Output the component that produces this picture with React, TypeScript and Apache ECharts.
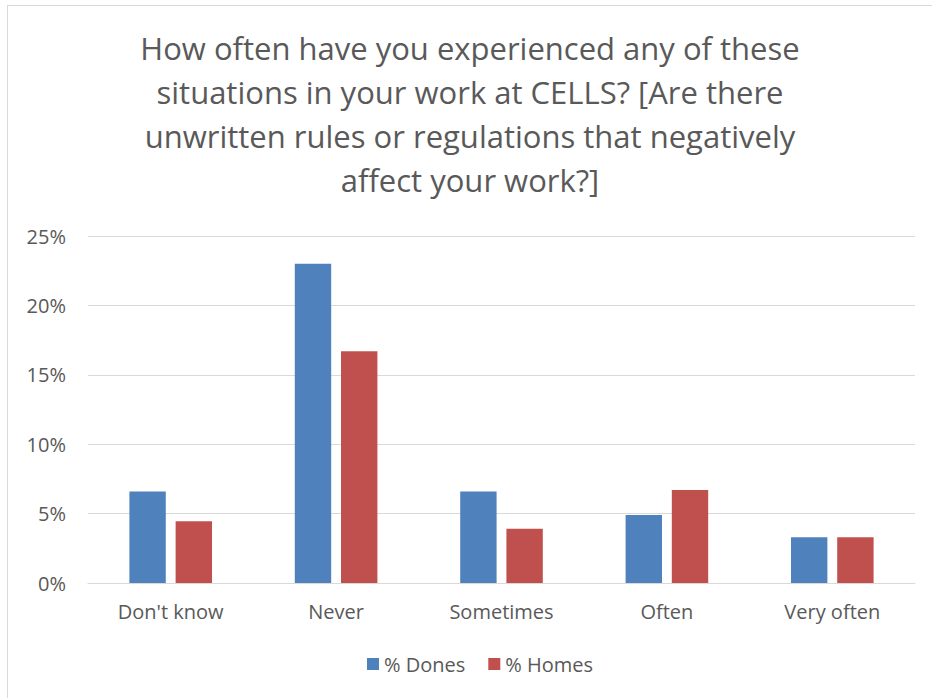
import React, { useEffect, useRef } from "react";
import * as echarts from "echarts";

const titleText =
  "How often have you experienced any of these\nsituations in your work at CELLS? [Are there\nunwritten rules or regulations that negatively\naffect your work?]";
const categories = ["Don't know", "Never", "Sometimes", "Often", "Very often"];
const dones = [6.6, 23.0, 6.6, 4.9, 3.3];
const homes = [4.45, 16.7, 3.9, 6.7, 3.3];
const seriesNames = ["% Dones", "% Homes"];

export default function App() {
  const ref = useRef<HTMLDivElement>(null);
  useEffect(() => {
    if (!ref.current) return;
    const chart = echarts.init(ref.current, null, { renderer: "svg" });
    const font = "'Open Sans', 'Noto Sans', sans-serif";
    chart.setOption({
      animation: false,
      backgroundColor: "#ffffff",
      title: {
        text: titleText,
        left: "center",
        top: 15,
        textStyle: {
          fontFamily: font,
          fontSize: 31,
          fontWeight: "normal",
          color: "#595959",
          lineHeight: 44,
        },
      },
      grid: { left: 80, right: 17, top: 230, bottom: 115, containLabel: false },
      legend: {
        top: 643,
        left: 354,
        itemWidth: 12,
        itemHeight: 12,
        itemGap: 23,
        icon: "rect",
        textStyle: { fontFamily: font, fontSize: 20, color: "#595959" },
        data: seriesNames,
      },
      xAxis: {
        type: "category",
        data: categories,
        axisLine: { lineStyle: { color: "#D9D9D9", width: 1 } },
        axisTick: { show: false },
        axisLabel: { fontFamily: font, fontSize: 20, color: "#595959", margin: 18 },
      },
      yAxis: {
        type: "value",
        min: 0,
        max: 25,
        interval: 5,
        axisLine: { show: false },
        axisTick: { show: false },
        splitLine: { lineStyle: { color: "#D9D9D9", width: 1 } },
        axisLabel: {
          fontFamily: font,
          fontSize: 20,
          color: "#595959",
          margin: 22,
          formatter: (v: number) => v + "%",
        },
      },
      series: [
        {
          name: seriesNames[0],
          type: "bar",
          data: dones,
          barWidth: "22%",
          barGap: "27%",
          itemStyle: { color: "#4F81BD" },
        },
        {
          name: seriesNames[1],
          type: "bar",
          data: homes,
          barWidth: "22%",
          itemStyle: { color: "#C0504D" },
        },
      ],
    });
    return () => chart.dispose();
  }, []);
  return (
    <div
      style={{
        position: "absolute",
        left: 7,
        top: 5,
        width: 925,
        height: 693,
        borderLeft: "1px solid #D9D9D9",
        borderTop: "1px solid #D9D9D9",
        boxSizing: "border-box",
        background: "#fff",
      }}
    >
      <div ref={ref} style={{ width: "100%", height: "100%" }} />
    </div>
  );
}
